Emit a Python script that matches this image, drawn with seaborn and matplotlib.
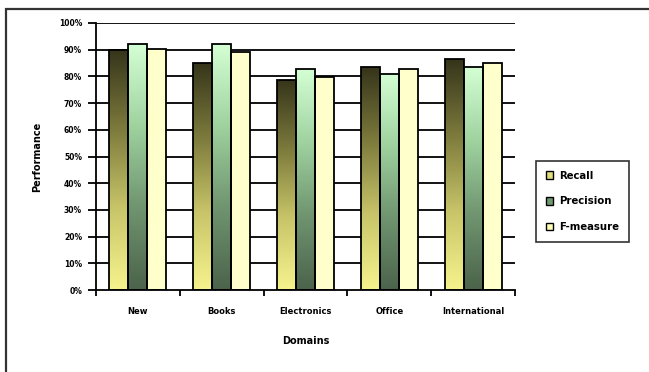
import numpy as np
import pandas as pd
import seaborn as sns
import matplotlib
matplotlib.use("Agg")
import matplotlib.pyplot as plt
from matplotlib.colors import LinearSegmentedColormap
from matplotlib.patches import Rectangle

# Performance (%) per product domain
domains = ["New", "Books", "Electronics", "Office", "International"]
measures = ["Recall", "Precision", "F-measure"]
recall = [90.0, 85.1, 78.7, 83.4, 86.4]
precision = [92.1, 92.1, 82.6, 80.9, 83.4]
fmeasure = [90.4, 89.1, 79.9, 82.6, 84.9]
yticks = list(range(0, 101, 10))

df = pd.DataFrame({
    "Domain": domains * 3,
    "Measure": np.repeat(measures, len(domains)),
    "Value": recall + precision + fmeasure,
})

# top -> bottom colour ramps for each series
ramps = {
    "Recall": ["#35341a", "#7d7b3c", "#c9c66a", "#f6f38e"],
    "Precision": ["#d4ffd4", "#9fd29f", "#6f946f", "#4b634b"],
    "F-measure": ["#ffffcc", "#ffffcc"],
}
legend_colors = {"Recall": "#e2df7a", "Precision": "#6f9a6f", "F-measure": "#ffffb8"}

W, H = 649, 372
fig = plt.figure(figsize=(W / 100, H / 100), dpi=100)
ax = fig.add_axes([96 / W, 1 - 290 / H, (515 - 96) / W, (290 - 23) / H])

sns.barplot(data=df, x="Domain", y="Value", hue="Measure", order=domains,
            hue_order=measures, palette=[legend_colors[m] for m in measures],
            width=0.68, edgecolor="black", linewidth=1.3, legend=False,
            ax=ax, zorder=3)

# gradient fills clipped to each bar
bars = [p for p in ax.patches if isinstance(p, Rectangle)]
for i, bar in enumerate(bars):
    m = measures[i // len(domains)]
    cmap = LinearSegmentedColormap.from_list(m, ramps[m][::-1])
    x0, y0 = bar.get_x(), bar.get_y()
    w, h = bar.get_width(), bar.get_height()
    grad = np.linspace(0, 1, 256).reshape(-1, 1)
    im = ax.imshow(grad, cmap=cmap, origin="lower", aspect="auto",
                   extent=[x0, x0 + w, y0, y0 + h], zorder=2,
                   interpolation="bilinear")
    im.set_clip_path(bar)
    bar.set_facecolor("none")
    bar.set_zorder(3)

ax.set_xlim(-0.5, len(domains) - 0.5)
ax.set_ylim(0, 100)
ax.set_yticks(yticks)
ax.set_yticklabels([f"{v}%" for v in yticks], fontsize=5.5, fontweight="bold")
for v in yticks[1:]:
    ax.axhline(v, color="black", linewidth=1.3, zorder=1)

# category separators as ticks, names centred between them
ax.set_xticks([i - 0.5 for i in range(len(domains) + 1)])
ax.set_xticklabels([])
ax.set_xticks(range(len(domains)), minor=True)
ax.set_xticklabels(domains, minor=True, fontsize=6, fontweight="bold")
ax.tick_params(axis="x", which="major", length=4, width=1.3, direction="out")
ax.tick_params(axis="x", which="minor", length=0, pad=12)
ax.tick_params(axis="y", length=6, width=1.3, direction="out", pad=4)

for s in ("top", "right"):
    ax.spines[s].set_visible(False)
for s in ("left", "bottom"):
    ax.spines[s].set_linewidth(1.3)
ax.set_xlabel("Domains", fontsize=7, fontweight="bold", labelpad=15)
ax.set_ylabel("Performance", fontsize=7, fontweight="bold", labelpad=12)
ax.set_facecolor("white")

handles = [Rectangle((0, 0), 1, 1, facecolor=legend_colors[m], edgecolor="black",
                     linewidth=1) for m in measures]
leg = fig.legend(handles, measures, loc="upper left",
                 bbox_to_anchor=(536 / W, 1 - 161 / H), frameon=True,
                 fancybox=False, edgecolor="black",
                 handlelength=0.75, handleheight=0.75, handletextpad=0.6,
                 labelspacing=1.55, borderpad=0.95, borderaxespad=0,
                 prop={"weight": "bold", "size": 7.3})
leg.get_frame().set_linewidth(1.2)

# outer chart frame
fig.patches.append(Rectangle((6 / W, -0.1), 1.2, 1.1 - 9 / H,
                             transform=fig.transFigure, fill=False,
                             edgecolor="#333333", linewidth=1.6))

fig.savefig("out.png", dpi=100)
